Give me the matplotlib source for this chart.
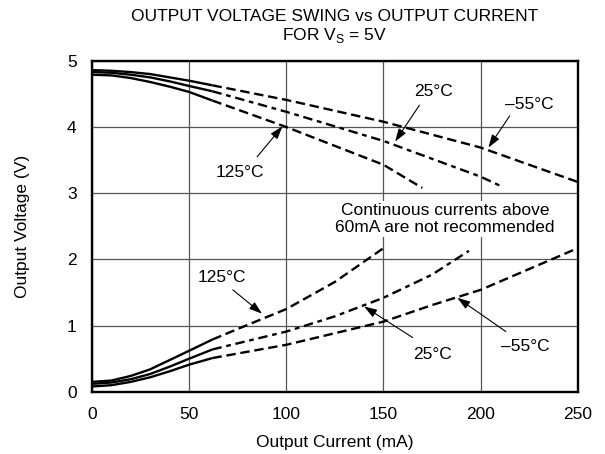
"""
Output voltage swing vs output current, Vs = 5V.
"""

import matplotlib.pyplot as plt

plt.rcParams['font.family'] = ['Liberation Sans', 'DejaVu Sans']

# Data
# ----------------------------------------------------------------------------

# high side (output swing to V+)
hi_m55_x = [0, 10, 20, 30, 40, 50, 62, 100, 150, 200, 250]
hi_m55_y = [4.86, 4.85, 4.83, 4.80, 4.75, 4.70, 4.63, 4.41, 4.08, 3.69, 3.17]
hi_25_x = [0, 10, 20, 30, 40, 50, 62, 100, 150, 200, 211]
hi_25_y = [4.83, 4.82, 4.79, 4.75, 4.69, 4.62, 4.54, 4.23, 3.79, 3.25, 3.10]
hi_125_x = [0, 10, 20, 30, 40, 50, 62, 100, 150, 170]
hi_125_y = [4.79, 4.78, 4.74, 4.68, 4.61, 4.53, 4.40, 4.00, 3.43, 3.08]

# low side (output swing to ground)
lo_125_x = [0, 10, 20, 30, 40, 50, 62, 80, 100, 125, 150]
lo_125_y = [0.15, 0.17, 0.24, 0.34, 0.48, 0.62, 0.79, 1.01, 1.25, 1.66, 2.17]
lo_25_x = [0, 10, 20, 30, 40, 50, 62, 100, 125, 150, 175, 194]
lo_25_y = [0.12, 0.14, 0.19, 0.27, 0.38, 0.50, 0.64, 0.91, 1.14, 1.42, 1.77, 2.13]
lo_m55_x = [0, 10, 20, 30, 40, 50, 62, 100, 150, 175, 200, 250]
lo_m55_y = [0.08, 0.10, 0.15, 0.22, 0.31, 0.41, 0.51, 0.71, 1.06, 1.31, 1.54, 2.17]

# (x, y, dash pattern above the continuous limit)
curves = [(hi_m55_x, hi_m55_y, (4, 2)), (hi_25_x, hi_25_y, (4, 2, 2, 2)),
          (hi_125_x, hi_125_y, (4, 2)),
          (lo_125_x, lo_125_y, (4, 2)), (lo_25_x, lo_25_y, (4, 2, 2, 2)),
          (lo_m55_x, lo_m55_y, (4, 2))]
x_limit = 62  # solid below, dashed above

# (text, text xy, arrow tail xy, arrow tip xy)
labels = [
    ('125°C', (76, 3.32), (85, 3.55), (98, 4.01)),
    ('25°C', (176, 4.53), (168.5, 4.33), (156, 3.78)),
    ('\u201355°C', (225, 4.34), (215, 4.17), (204, 3.69)),
    ('125°C', (67, 1.72), (72.5, 1.54), (87.5, 1.18)),
    ('25°C', (175, 0.57), (165, 0.82), (140, 1.29)),
    ('\u201355°C', (223, 0.69), (213, 0.91), (188, 1.42)),
]

fs = 12.5

# Plot
# ----------------------------------------------------------------------------

fig = plt.figure(figsize=(6.05, 4.54), dpi=100)
ax = fig.add_axes([0.152, 0.137, 0.803, 0.729])

for x, y, dash in curves:
    n = x.index(x_limit) + 1
    ax.plot(x[:n], y[:n], color='black', lw=1.7, solid_capstyle='butt')
    ax.plot(x[n - 1:], y[n - 1:], color='black', lw=1.7,
            linestyle=(0, dash), dash_capstyle='butt')

for text, xy_text, tail, tip in labels:
    ax.text(*xy_text, text, fontsize=fs, ha='center', va='center')
    ax.annotate('', xy=tip, xytext=tail,
                arrowprops=dict(arrowstyle='-|>,head_length=0.6,head_width=0.2',
                                color='black', lw=0.8, mutation_scale=13,
                                shrinkA=0, shrinkB=0))

ax.text(181.6, 2.61, 'Continuous currents above\n60mA are not recommended',
        fontsize=fs, ha='center', va='center', linespacing=1.1,
        bbox=dict(facecolor='white', edgecolor='none', pad=2))

ax.set_xlim(0, 250)
ax.set_ylim(0, 5)
ax.set_xticks(range(0, 251, 50))
ax.set_yticks(range(0, 6))
ax.grid(True, color='#555555', lw=0.9)
ax.set_axisbelow(True)
ax.tick_params(length=0, labelsize=fs, pad=11)
for sp in ax.spines.values():
    sp.set_linewidth(1.7)

ax.set_xlabel('Output Current (mA)', fontsize=fs)
ax.xaxis.set_label_coords(0.5, -0.13)
ax.set_ylabel('Output Voltage (V)', fontsize=fs)
ax.yaxis.set_label_coords(-0.128, 0.5)

cx = ax.get_position().x0 + ax.get_position().width / 2
fig.text(cx, 1 - 21 / 454, 'OUTPUT VOLTAGE SWING vs OUTPUT CURRENT',
         fontsize=fs, ha='center', va='baseline')
fig.text(cx, 1 - 40 / 454, 'FOR V$_\\mathregular{S}$ = 5V',
         fontsize=fs, ha='center', va='baseline')

fig.savefig('out.png', dpi=100)
